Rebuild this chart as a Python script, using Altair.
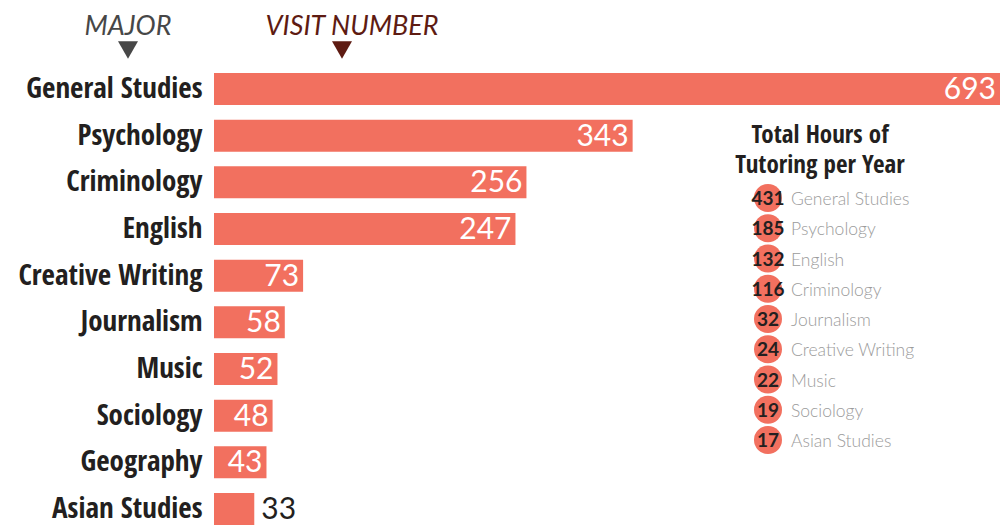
import altair as alt
import pandas as pd

# ---- data ----
majors = ["General Studies", "Psychology", "Criminology", "English", "Creative Writing",
          "Journalism", "Music", "Sociology", "Geography", "Asian Studies"]
visits = [693, 343, 256, 247, 73, 58, 52, 48, 43, 33]

hour_majors = ["General Studies", "Psychology", "English", "Criminology", "Journalism",
               "Creative Writing", "Music", "Sociology", "Asian Studies"]
hours = [431, 185, 132, 116, 32, 24, 22, 19, 17]

legend_title = ["Total Hours of\nTutoring per Year"]
header_major = ["MAJOR"]
header_visit = ["VISIT NUMBER"]

BAR = "#F2705F"
DARK = "#231f20"
XMAX = 644
COND = "Open Sans Condensed, Roboto Condensed, sans-serif"
NUMF = "Lato, Open Sans, sans-serif"

df = pd.DataFrame({"major": majors, "visits": visits})
ldf = pd.DataFrame({"major": hour_majors, "hours": hours})

xscale = alt.Scale(domain=[0, XMAX], nice=False, zero=True)
yband = alt.Y("major:N", sort=majors,
              scale=alt.Scale(paddingInner=0.315, paddingOuter=0),
              axis=alt.Axis(title=None, ticks=False, domain=False, labelPadding=12,
                            labelFont=COND, labelFontWeight="bold", labelFontSize=29,
                            labelColor=DARK, labelLimit=400))

base = alt.Chart(df)
bars = base.mark_bar(color=BAR, clip=True).encode(
    x=alt.X("visits:Q", scale=xscale, axis=None), y=yband)

lab_in = base.transform_filter("datum.visits >= 40").transform_calculate(
    xpos=f"min(datum.visits, {XMAX})").mark_text(
    align="right", baseline="middle", dx=-4, dy=1, color="white",
    font=NUMF, fontSize=30).encode(
    x=alt.X("xpos:Q", scale=xscale, axis=None),
    y=alt.Y("major:N", sort=majors), text="visits:Q")

lab_out = base.transform_filter("datum.visits < 40").mark_text(
    align="left", baseline="middle", dx=7, dy=1, color=DARK,
    font=NUMF, fontSize=30).encode(
    x=alt.X("visits:Q", scale=xscale, axis=None),
    y=alt.Y("major:N", sort=majors), text="visits:Q")

main = alt.layer(bars, lab_in, lab_out)

# ---- side legend ----
ly = alt.Y("major:N", sort=hour_majors,
           scale=alt.Scale(type="point", range=[125, 367], padding=0), axis=None)
lbase = alt.Chart(ldf)
circles = lbase.mark_circle(color=BAR, size=784, opacity=1).encode(
    x=alt.value(554), y=ly)
nums = lbase.mark_text(font=NUMF, fontWeight="bold", fontSize=19, color=DARK,
                       baseline="middle", dy=1).encode(
    x=alt.value(554), y=ly, text="hours:Q")
names = lbase.mark_text(font=NUMF, fontWeight=300, fontSize=17.5, color="#9b9b9b",
                        align="left", baseline="middle", dy=2).encode(
    x=alt.value(577), y=ly, text="major:N")
ltitle = alt.Chart(pd.DataFrame({"t": legend_title})).mark_text(
    lineBreak="\n", font=COND, fontWeight="bold", fontSize=25, lineHeight=30,
    align="center", baseline="middle", color=DARK).encode(
    x=alt.value(606), y=alt.value(62), text="t:N")
legend = alt.layer(circles, nums, names, ltitle)

# ---- header ----
h1 = alt.Chart(pd.DataFrame({"t": header_major})).mark_text(
    font=NUMF, fontStyle="italic", fontSize=27, color="#474747",
    align="center", baseline="middle").encode(
    x=alt.value(-86), y=alt.value(-46), text="t:N")
h2 = alt.Chart(pd.DataFrame({"t": header_visit})).mark_text(
    font=NUMF, fontStyle="italic", fontSize=27, color="#5e1b12",
    align="center", baseline="middle").encode(
    x=alt.value(138), y=alt.value(-46), text="t:N")
t1 = alt.Chart(pd.DataFrame({"t": header_major})).mark_point(
    shape="triangle-down", filled=True, size=400, opacity=1, color="#474747").encode(
    x=alt.value(-86), y=alt.value(-23))
t2 = alt.Chart(pd.DataFrame({"t": header_visit})).mark_point(
    shape="triangle-down", filled=True, size=400, opacity=1, color="#5e1b12").encode(
    x=alt.value(128), y=alt.value(-23))
header = alt.layer(h1, h2, t1, t2)

chart = alt.layer(main, legend, header).resolve_scale(y="independent").properties(
    width=786, height=452,
    padding={"left": 214, "top": 73, "right": 0, "bottom": 0},
    autosize=alt.AutoSizeParams(type="none"),
    background="white",
).configure_view(stroke=None)

chart.save("out.html", embed_options={"renderer": "svg", "actions": False})
